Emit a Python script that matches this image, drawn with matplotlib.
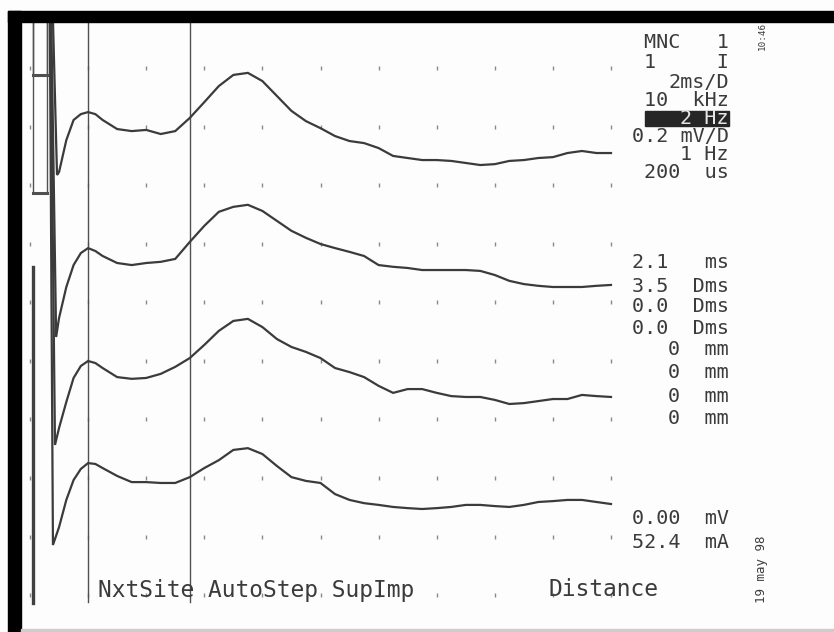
import matplotlib
matplotlib.use("Agg")
import matplotlib.pyplot as plt
from matplotlib.patches import Rectangle

# 화면 스케일 (2 ms/D, 0.2 mV/D)
MS_PER_DIV = 2.0
MV_PER_DIV = 0.2
PX_PER_MS = 58.1 / MS_PER_DIV
PX_PER_MV = 58.5 / MV_PER_DIV
X0_PX, Y0_PX = 30, 595          # 격자 왼쪽 아래 점
W, H = 834, 632

# 공통 시간축 (ms)
t_common = [1.0, 1.25, 1.5, 1.75, 2.0, 2.25, 2.5, 3.0, 3.5, 4.0, 4.5, 5.0, 5.5,
            6.0, 6.5, 7.0, 7.5, 8.0, 8.5, 9.0, 9.5, 10.0, 10.5, 11.0, 11.5, 12.0,
            12.5, 13.0, 13.5, 14.0, 14.5, 15.0, 15.5, 16.0, 16.5, 17.0, 17.5,
            18.0, 18.5, 19.0, 19.5, 20.0]

# 각 트레이스: 최저점 시간 + 진폭 (mV, 첫 값은 최저점)
trough_ms = [0.93, 0.90, 0.86, 0.79]
amp_1 = [-0.075, -0.065, 0.044, 0.113, 0.133, 0.140, 0.133, 0.113, 0.082, 0.075, 0.079,
         0.065, 0.075, 0.120, 0.174, 0.229, 0.267, 0.274, 0.246, 0.195, 0.144, 0.109,
         0.085, 0.058, 0.041, 0.034, 0.017, -0.010, -0.017, -0.024, -0.024, -0.027,
         -0.034, -0.041, -0.038, -0.027, -0.024, -0.017, -0.014, 0.000, 0.007, 0.000, 0.000]
amp_2 = [-0.178, -0.113, -0.007, 0.068, 0.109, 0.126, 0.116, 0.099, 0.075, 0.068, 0.075,
         0.079, 0.089, 0.147, 0.202, 0.250, 0.267, 0.274, 0.253, 0.219, 0.185, 0.161,
         0.140, 0.126, 0.113, 0.099, 0.068, 0.062, 0.058, 0.051, 0.051, 0.051, 0.051,
         0.048, 0.034, 0.014, 0.003, -0.003, -0.007, -0.007, -0.007, -0.003, 0.000]
amp_3 = [-0.164, -0.106, -0.017, 0.065, 0.106, 0.123, 0.116, 0.099, 0.068, 0.062, 0.065,
         0.079, 0.103, 0.133, 0.178, 0.226, 0.260, 0.267, 0.239, 0.198, 0.171, 0.154,
         0.133, 0.099, 0.085, 0.068, 0.038, 0.014, 0.027, 0.027, 0.014, 0.003, 0.000,
         0.000, -0.010, -0.024, -0.021, -0.014, -0.007, -0.007, 0.007, 0.003, 0.000]
amp_4 = [-0.140, -0.079, 0.014, 0.082, 0.120, 0.140, 0.137, 0.123, 0.096, 0.075, 0.075,
         0.072, 0.072, 0.092, 0.123, 0.150, 0.185, 0.191, 0.171, 0.130, 0.092, 0.079,
         0.072, 0.034, 0.014, 0.003, -0.003, -0.010, -0.014, -0.017, -0.014, -0.010,
         -0.003, -0.003, -0.007, -0.010, -0.003, 0.007, 0.010, 0.014, 0.014, 0.007, 0.000]
amps = [amp_1, amp_2, amp_3, amp_4]
offsets_mv = [1.511, 1.060, 0.677, 0.311]   # 화면상 트레이스 위치

# 자극 아티팩트 / 기준선 마커
stim_ms = 0.65
artifact_mv = 2.5                 # 화면 밖 (클리핑)
pre_ms = [0.10, 0.58]
marker_mv = [1.778, 1.374]        # 트레이스 1, 2 시작 기준선
stim_bar_ms = 0.10
stim_bar_mv = [-0.027, 1.121]

# 커서 (ms)
cursor_ms = [2.0, 5.5]
cursor_bottom_mv = -0.025

# 오른쪽 측정값 텍스트
panel_top = ["MNC   1", "1     I", "2ms/D", "10  kHz", "2 Hz", "0.2 mV/D", "1 Hz", "200  us"]
panel_top_y = [42, 63, 82, 100, 118, 137, 155, 173]
panel_mid = ["2.1   ms", "3.5  Dms", "0.0  Dms", "0.0  Dms", "0  mm", "0  mm", "0  mm", "0  mm"]
panel_mid_y = [263, 286, 307, 328, 350, 373, 396, 418]
panel_bot = ["0.00  mV", "52.4  mA"]
panel_bot_y = [518, 543]
highlight_idx = 4
softkeys = "NxtSite AutoStep SupImp"
softkey_right = "Distance"
time_str = "10:46"
date_str = "19 may 98"

INK = "#3b3b3b"
MONO = "DejaVu Sans Mono"


def fx(px):
    return px / W


def fy(py):
    return 1 - py / H


fig = plt.figure(figsize=(W / 100, H / 100), dpi=100, facecolor="#fdfdfd")

# 플롯 영역 (흰 화면 부분)
ax = fig.add_axes([fx(21), fy(632), fx(834) - fx(21), fy(22) - fy(632)])
ax.set_xlim((21 - X0_PX) / PX_PER_MS, (834 - X0_PX) / PX_PER_MS)
ax.set_ylim((Y0_PX - 632) / PX_PER_MV, (Y0_PX - 22) / PX_PER_MV)
ax.axis("off")

# 점 격자
grid_t = [MS_PER_DIV * k for k in range(11)]
grid_v = [MV_PER_DIV * j for j in range(10)]
gx = [t for t in grid_t for v in grid_v]
gy = [v for t in grid_t for v in grid_v]
ax.plot(gx, gy, ls="none", marker="|", ms=3, mew=1.0, color="#8a8a8a", zorder=1)

# 커서
for c in cursor_ms:
    ax.plot([c, c], [cursor_bottom_mv, artifact_mv], color="#505050", lw=1.0, zorder=2)

# 자극 마커
ax.plot([stim_bar_ms, stim_bar_ms], stim_bar_mv, color="#404040", lw=2.4, zorder=2)
for m in marker_mv:
    ax.plot([pre_ms[0], pre_ms[0], pre_ms[1], pre_ms[1]],
            [artifact_mv, m, m, artifact_mv], color="#505050", lw=1.0, zorder=2)
    ax.plot(pre_ms, [m, m], color="#505050", lw=2.2, zorder=2)

# 트레이스
for i in range(4):
    t = [stim_ms, trough_ms[i]] + t_common
    v = [artifact_mv] + [offsets_mv[i] + a for a in amps[i]]
    ax.plot(t, v, color=INK, lw=1.6, zorder=3, solid_joinstyle="miter")

# 프레임 (검은 테두리, 아래쪽 회색 선)
fig.patches.append(Rectangle((fx(8), fy(22)), fx(834) - fx(8), fy(11) - fy(22),
                             transform=fig.transFigure, color="black", zorder=10))
fig.patches.append(Rectangle((fx(8), fy(632)), fx(21) - fx(8), fy(11) - fy(632),
                             transform=fig.transFigure, color="black", zorder=10))
fig.patches.append(Rectangle((fx(21), fy(632)), fx(834) - fx(21), fy(629) - fy(632),
                             transform=fig.transFigure, color="#cdcdcd", zorder=10))

# 오른쪽 패널 텍스트
fig.patches.append(Rectangle((fx(645), fy(126)), fx(729) - fx(645), fy(111) - fy(126),
                             transform=fig.transFigure, color="#262626", zorder=4))
for k, (s, y) in enumerate(zip(panel_top, panel_top_y)):
    col = "#e6e6e6" if k == highlight_idx else INK
    fig.text(fx(729), fy(y), s, ha="right", va="center", family=MONO,
             fontsize=14.5, color=col, zorder=5)
for s, y in zip(panel_mid + panel_bot, panel_mid_y + panel_bot_y):
    fig.text(fx(729), fy(y), s, ha="right", va="center", family=MONO,
             fontsize=14.5, color=INK, zorder=5)

# 하단 소프트키
fig.text(fx(98), fy(591), softkeys, ha="left", va="center", family=MONO,
         fontsize=16.5, color=INK, zorder=5)
fig.text(fx(658), fy(590), softkey_right, ha="right", va="center", family=MONO,
         fontsize=16.5, color=INK, zorder=5)

# 세로 시간/날짜
fig.text(fx(762), fy(36), time_str, ha="center", va="center", rotation=90,
         family=MONO, fontsize=6.7, color=INK)
fig.text(fx(762), fy(569), date_str, ha="center", va="center", rotation=90,
         family=MONO, fontsize=9, color=INK)

fig.savefig("out.png", dpi=100, facecolor=fig.get_facecolor())
